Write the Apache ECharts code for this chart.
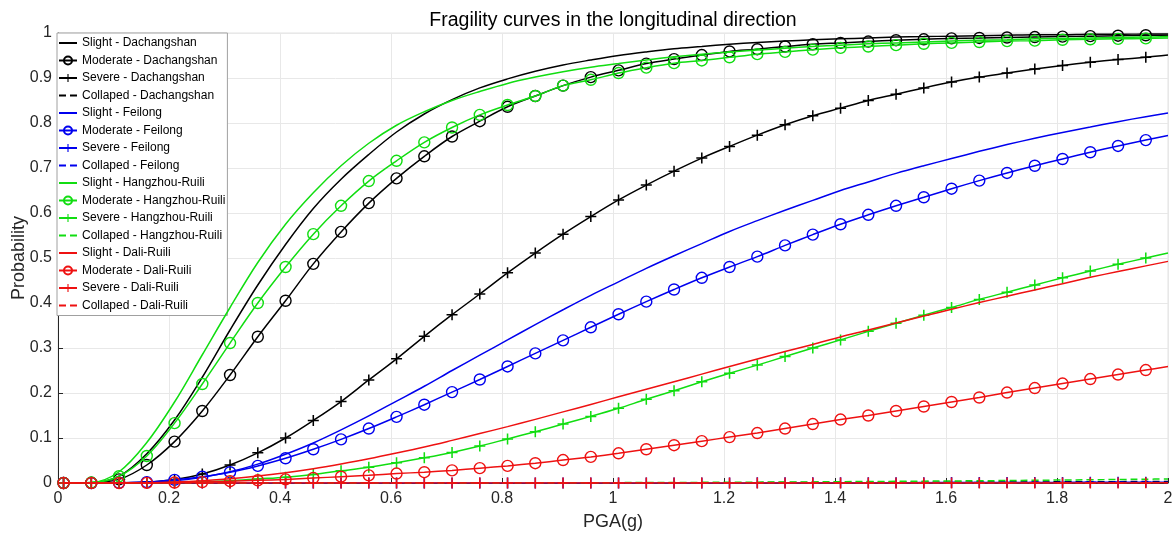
<!DOCTYPE html>
<html><head><meta charset="utf-8">
<script src="https://cdn.jsdelivr.net/npm/echarts@6/dist/echarts.min.js"></script>
<style>html,body{margin:0;padding:0;background:#fff}#c{width:1173px;height:536px}</style>
</head><body><div id="c"></div>
<script>
// PGA (g) sample points (markers every 0.05 g, curve end at 2.0 g)
const pga = [0.01,0.06,0.11,0.16,0.21,0.26,0.31,0.36,0.41,0.46,0.51,0.56,0.61,0.66,0.71,0.76,0.81,0.86,0.91,0.96,1.01,1.06,1.11,1.16,1.21,1.26,1.31,1.36,1.41,1.46,1.51,1.56,1.61,1.66,1.71,1.76,1.81,1.86,1.91,1.96,2.00];

// Dachangshan
const slightDach = [0,0.0005,0.015,0.065,0.14,0.235,0.34,0.44,0.53,0.61,0.675,0.73,0.78,0.82,0.852,0.878,0.898,0.915,0.929,0.94,0.95,0.958,0.965,0.97,0.975,0.979,0.982,0.985,0.987,0.989,0.991,0.992,0.993,0.994,0.995,0.996,0.996,0.997,0.997,0.998,0.998];
const moderateDach = [0,0.0005,0.008,0.04,0.092,0.16,0.24,0.325,0.405,0.487,0.558,0.622,0.677,0.726,0.77,0.804,0.836,0.86,0.883,0.902,0.917,0.932,0.942,0.951,0.959,0.964,0.97,0.975,0.978,0.981,0.984,0.986,0.988,0.989,0.99,0.991,0.992,0.993,0.994,0.995,0.995];
const severeDach = [0,0,0.0003,0.002,0.008,0.02,0.04,0.067,0.1,0.139,0.181,0.229,0.276,0.326,0.374,0.42,0.467,0.511,0.553,0.592,0.629,0.662,0.693,0.722,0.748,0.773,0.796,0.816,0.833,0.85,0.864,0.878,0.891,0.902,0.911,0.92,0.928,0.935,0.941,0.946,0.951];
const collapsedDach = [0,0,0,0,0,0,0,0,0,0,0,0,0,0,0,0,0.0001,0.0001,0.0002,0.0002,0.0003,0.0004,0.0005,0.0006,0.0007,0.0008,0.001,0.0011,0.0012,0.0014,0.0015,0.0017,0.0018,0.002,0.0022,0.0024,0.0026,0.0028,0.003,0.0032,0.0034];

// Feilong
const slightFei = [0,0,0.0002,0.0015,0.005,0.013,0.025,0.042,0.064,0.089,0.118,0.149,0.182,0.215,0.25,0.284,0.318,0.352,0.385,0.417,0.447,0.477,0.505,0.532,0.559,0.583,0.606,0.628,0.65,0.669,0.688,0.705,0.721,0.737,0.752,0.766,0.779,0.791,0.803,0.814,0.822];
const moderateFei = [0,0,0.0005,0.002,0.007,0.014,0.024,0.038,0.055,0.075,0.097,0.121,0.147,0.174,0.202,0.23,0.259,0.288,0.317,0.346,0.375,0.403,0.43,0.456,0.48,0.503,0.528,0.552,0.575,0.596,0.616,0.635,0.654,0.672,0.689,0.705,0.72,0.735,0.749,0.762,0.772];
const severeFei = [0,0,0,0,0,0,0,0,0,0,0,0,0,0,0,0,0,0,0,0,0.0001,0.0001,0.0001,0.0002,0.0002,0.0003,0.0003,0.0004,0.0005,0.0006,0.0007,0.0008,0.0009,0.001,0.0011,0.0012,0.0013,0.0015,0.0016,0.0018,0.0019];
const collapsedFei = [0,0,0,0,0,0,0,0,0,0,0,0,0,0,0,0,0,0,0,0,0,0,0,0,0,0,0,0,0,0,0.0001,0.0001,0.0001,0.0001,0.0002,0.0002,0.0002,0.0003,0.0003,0.0003,0.0004];

// Hangzhou-Ruili
const slightHz = [0,0.001,0.025,0.09,0.18,0.285,0.39,0.49,0.575,0.645,0.705,0.755,0.795,0.825,0.85,0.87,0.888,0.902,0.914,0.924,0.932,0.94,0.947,0.953,0.958,0.962,0.966,0.97,0.973,0.976,0.978,0.98,0.982,0.984,0.985,0.987,0.988,0.989,0.99,0.991,0.992];
const moderateHz = [0,0.001,0.015,0.06,0.133,0.22,0.311,0.4,0.48,0.553,0.616,0.671,0.716,0.757,0.79,0.818,0.84,0.86,0.883,0.896,0.911,0.923,0.933,0.939,0.946,0.953,0.958,0.963,0.967,0.97,0.973,0.976,0.978,0.98,0.982,0.983,0.985,0.986,0.987,0.988,0.989];
const severeHz = [0,0,0,0.0005,0.001,0.003,0.005,0.009,0.013,0.019,0.027,0.035,0.045,0.056,0.068,0.082,0.098,0.114,0.131,0.148,0.166,0.186,0.205,0.225,0.244,0.262,0.281,0.3,0.318,0.337,0.355,0.373,0.39,0.408,0.424,0.44,0.456,0.471,0.486,0.5,0.511];
const collapsedHz = [0,0,0,0,0,0,0,0,0,0,0,0,0,0,0,0,0.0003,0.0004,0.0005,0.0006,0.0008,0.001,0.0012,0.0014,0.0016,0.0019,0.0022,0.0025,0.0029,0.0033,0.0037,0.0041,0.0045,0.005,0.0055,0.006,0.0066,0.0072,0.0078,0.0084,0.009];

// Dali-Ruili
const slightDali = [0,0,0.0001,0.0007,0.0023,0.0051,0.0094,0.0153,0.0228,0.0317,0.0422,0.0537,0.0665,0.08,0.0947,0.1098,0.1253,0.1414,0.158,0.1746,0.1915,0.2083,0.2251,0.242,0.259,0.2756,0.292,0.308,0.3246,0.34,0.3557,0.371,0.386,0.401,0.415,0.429,0.443,0.457,0.47,0.4825,0.4925];
const moderateDali = [0,0,0,0.0003,0.001,0.002,0.004,0.006,0.008,0.011,0.014,0.017,0.021,0.024,0.028,0.033,0.038,0.044,0.051,0.058,0.066,0.075,0.084,0.093,0.102,0.111,0.121,0.131,0.141,0.15,0.16,0.17,0.18,0.19,0.201,0.211,0.221,0.231,0.241,0.251,0.259];
const severeDali = [0,0,0,0,0,0,0,0,0,0,0,0,0,0,0,0,0,0,0,0,0,0,0,0,0,0,0,0,0,0,0.0001,0.0001,0.0001,0.0001,0.0001,0.0002,0.0002,0.0002,0.0002,0.0003,0.0003];
const collapsedDali = [0,0,0,0,0,0,0,0,0,0,0,0,0,0,0,0,0,0,0,0,0,0,0,0,0,0,0,0,0,0,0,0,0,0,0,0,0,0,0,0,0];

const sites = ['Dachangshan','Feilong','Hangzhou-Ruili','Dali-Ruili'];
const states = ['Slight','Moderate','Severe','Collaped'];
const siteValues = [
  [slightDach, moderateDach, severeDach, collapsedDach],
  [slightFei, moderateFei, severeFei, collapsedFei],
  [slightHz, moderateHz, severeHz, collapsedHz],
  [slightDali, moderateDali, severeDali, collapsedDali]
];
const siteColors = ['#000000','#0000ee','#11dd11','#ee1111'];
const PLUS = 'path://M8.6,0H11.4V8.6H20V11.4H11.4V20H8.6V11.4H0V8.6H8.6Z';
const FONT = 'Liberation Sans, Arial, Helvetica, sans-serif';

const series = [];
const legendData = [];
sites.forEach((site, si) => {
  states.forEach((st, ti) => {
    const name = st + ' - ' + site;
    const col = siteColors[si];
    const vals = siteValues[si][ti];
    const hasMarker = (ti === 1 || ti === 2);
    const data = pga.map((x, i) => {
      if (hasMarker && i === pga.length - 1) return { value: [x, vals[i]], symbol: 'none' };
      return [x, vals[i]];
    });
    const s = {
      name, type: 'line', data,
      smooth: 0.35,
      lineStyle: { color: col, width: 1.5, type: ti === 3 ? [7, 4] : 'solid' },
      emphasis: { disabled: true },
      silent: true,
      z: 2 + si
    };
    if (ti === 1) {
      s.symbol = 'circle'; s.symbolSize = 11; s.showSymbol = true;
      s.itemStyle = { color: 'rgba(0,0,0,0)', borderColor: col, borderWidth: 1.4 };
    } else if (ti === 2) {
      s.symbol = PLUS; s.symbolSize = 11; s.showSymbol = true;
      s.itemStyle = { color: col, borderWidth: 0 };
    } else {
      s.symbol = 'none'; s.showSymbol = false;
      s.itemStyle = { color: col };
    }
    series.push(s);
    const ld = { name };
    if (!hasMarker) ld.itemStyle = { opacity: 0 };
    legendData.push(ld);
  });
});

const chart = echarts.init(document.getElementById('c'), null, { renderer: 'canvas' });
chart.setOption({
  animation: false,
  backgroundColor: '#fff',
  title: {
    text: 'Fragility curves in the longitudinal direction',
    left: 608, textAlign: 'center', top: 6,
    textStyle: { fontFamily: FONT, fontSize: 19.5, fontWeight: 'normal', color: '#000' }
  },
  grid: { left: 58, right: 5, top: 33, bottom: 53, show: true, borderColor: '#e3e3e3', borderWidth: 1,
          containLabel: false, outerBoundsMode: 'none' },
  xAxis: {
    type: 'value', min: 0, max: 2, interval: 0.2,
    name: 'PGA(g)', nameLocation: 'middle', nameGap: 30, nameMoveOverlap: false,
    nameTextStyle: { fontFamily: FONT, fontSize: 18, color: '#262626' },
    axisLine: { show: true, onZero: false, lineStyle: { color: '#262626', width: 1 } },
    axisTick: { show: true, inside: true, length: 5, lineStyle: { color: '#262626' } },
    axisLabel: { fontFamily: FONT, fontSize: 16, color: '#262626', margin: 8 },
    splitLine: { show: true, lineStyle: { color: '#e8e8e8', width: 1 } }
  },
  yAxis: {
    type: 'value', min: 0, max: 1, interval: 0.1,
    name: 'Probability', nameLocation: 'middle', nameGap: 30, nameMoveOverlap: false,
    nameTextStyle: { fontFamily: FONT, fontSize: 18, color: '#262626' },
    axisLine: { show: true, onZero: false, lineStyle: { color: '#262626', width: 1 } },
    axisTick: { show: true, inside: true, length: 5, lineStyle: { color: '#262626' } },
    axisLabel: { fontFamily: FONT, fontSize: 16, color: '#262626', margin: 6 },
    splitLine: { show: true, lineStyle: { color: '#e8e8e8', width: 1 } }
  },
  legend: {
    data: legendData,
    orient: 'vertical', left: 57, top: 33,
    itemWidth: 18, itemHeight: 10, itemGap: 5.5,
    padding: [4, 2, 4, 1],
    backgroundColor: '#fff', borderColor: '#a0a0a0', borderWidth: 1,
    selectedMode: false,
    textStyle: { fontFamily: FONT, fontSize: 12, color: '#000', lineHeight: 12 }
  },
  series
});
</script>
</body></html>
